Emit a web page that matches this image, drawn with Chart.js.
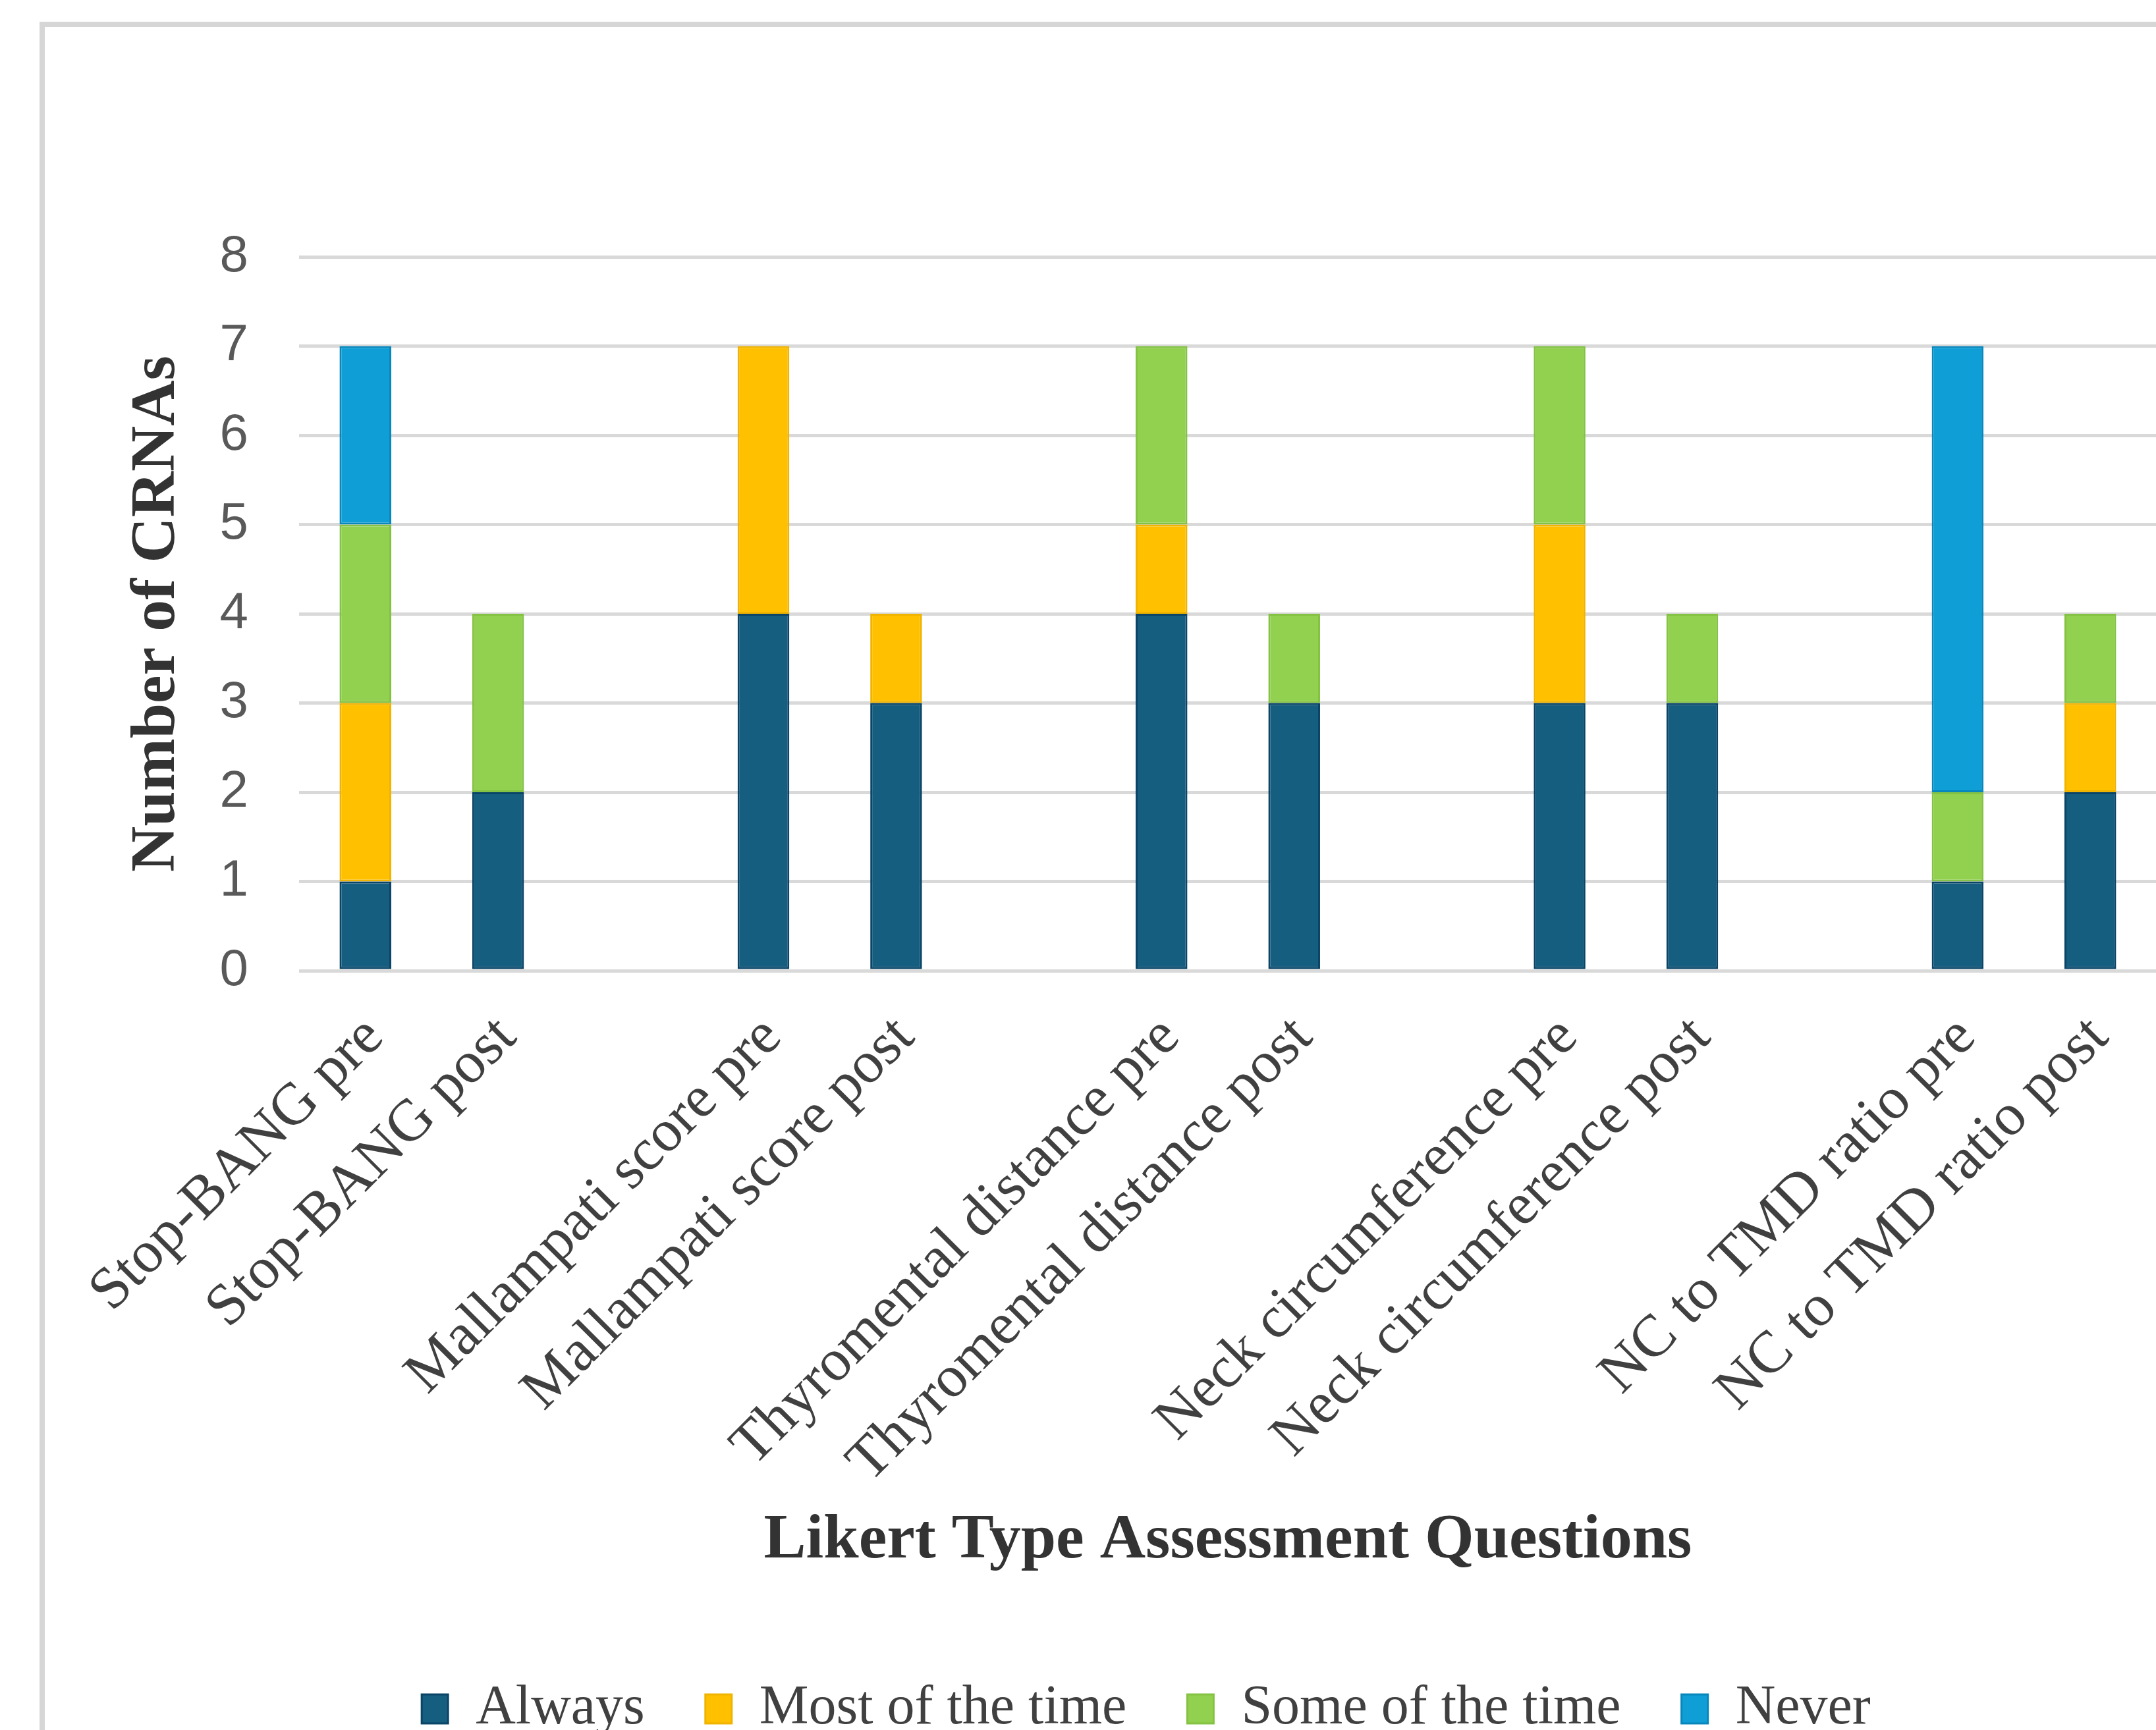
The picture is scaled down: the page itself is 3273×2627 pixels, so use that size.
<!DOCTYPE html>
<html>
<head>
<meta charset="utf-8">
<script src="https://cdn.jsdelivr.net/npm/chart.js@4.4.1/dist/chart.umd.min.js"></script>
<style>
  html, body { margin: 0; padding: 0; background: #fff; overflow: hidden; }
  body { width: 3273px; height: 2627px; position: relative; }
  #frame {
    position: absolute; left: 60px; top: 33px; width: 3420px; height: 2700px;
    border: 8px solid #d6d6d6; box-sizing: border-box;
  }
  #wrap { position: absolute; left: 0; top: 0; width: 3440px; height: 2700px; }
</style>
</head>
<body>
<div id="frame"></div>
<div id="wrap"><canvas id="barchart1" width="3440" height="2700"></canvas></div>
<script>
// Categories (blank entries are the spacer columns between question pairs)
const questions = [
    'Stop-BANG pre', 'Stop-BANG post', '',
    'Mallampati score pre', 'Mallampati score post', '',
    'Thyromental distance pre', 'Thyromental distance post', '',
    'Neck circumference pre', 'Neck circumference post', '',
    'NC to TMD ratio pre', 'NC to TMD ratio post'
];

// Number of CRNAs per answer
const always      = [1, 2, null, 4, 3, null, 4, 3, null, 3, 3, null, 1, 2];
const mostOfTime  = [2, 0, null, 3, 1, null, 1, 0, null, 2, 0, null, 0, 1];
const someOfTime  = [2, 2, null, 0, 0, null, 2, 1, null, 2, 1, null, 1, 1];
const never       = [2, 0, null, 0, 0, null, 0, 0, null, 0, 0, null, 5, 0];

const yTicks = [0, 1, 2, 3, 4, 5, 6, 7, 8];

const serif = "'Liberation Serif', 'Times New Roman', serif";
const sans = "'Liberation Sans', Arial, sans-serif";

function series(label, data, fill, edge) {
    return {
        label: label,
        data: data,
        backgroundColor: fill,
        borderColor: edge,
        borderWidth: 3,
        borderSkipped: false,
        barPercentage: 0.39,
        categoryPercentage: 1
    };
}

const ctx = document.getElementById('barchart1').getContext('2d');
const chart = new Chart(ctx, {
    type: 'bar',
    data: {
        labels: questions,
        datasets: [
            series('Always', always, '#165e80', '#0a4466'),
            series('Most of the time', mostOfTime, '#ffc000', '#f0b400'),
            series('Some of the time', someOfTime, '#92d050', '#84c243'),
            series('Never', never, '#0f9ed5', '#0887bd')
        ]
    },
    options: {
        responsive: false,
        animation: false,
        layout: {
            padding: { left: 70, top: 390, right: 30, bottom: 53 }
        },
        plugins: {
            tooltip: { enabled: false },
            legend: {
                position: 'bottom',
                labels: {
                    boxWidth: 40,
                    boxHeight: 44,
                    padding: 92,
                    color: '#404040',
                    font: { family: serif, size: 84 }
                }
            }
        },
        scales: {
            x: {
                stacked: true,
                grid: { display: false },
                border: { display: false },
                ticks: {
                    autoSkip: false,
                    minRotation: 45,
                    maxRotation: 45,
                    padding: 41,
                    labelOffset: 14,
                    color: '#404040',
                    font: { family: serif, size: 90 }
                },
                title: {
                    display: true,
                    text: 'Likert Type Assessment Questions',
                    color: '#333333',
                    padding: { top: 0, bottom: 63 },
                    font: { family: serif, size: 96, weight: 'bold' }
                },
                afterFit: function (scale) { scale.height = 987; }
            },
            y: {
                stacked: true,
                min: yTicks[0],
                max: yTicks[yTicks.length - 1],
                grid: { color: '#d9d9d9', lineWidth: 5, drawTicks: false },
                border: { display: false },
                afterBuildTicks: function (scale) {
                    scale.ticks = yTicks.map(v => ({ value: v }));
                },
                ticks: {
                    padding: 77,
                    color: '#595959',
                    font: { family: sans, size: 78 }
                },
                title: {
                    display: true,
                    text: 'Number of CRNAs',
                    color: '#333333',
                    padding: { top: 112, bottom: 0 },
                    font: { family: serif, size: 96, weight: 'bold' }
                },
                afterFit: function (scale) { scale.width = 384; }
            },
            // empty right-hand axis: keeps the plot narrower than the frame
            yRight: {
                position: 'right',
                grid: { display: false },
                border: { display: false },
                ticks: { display: false },
                afterFit: function (scale) { scale.width = 136; }
            }
        }
    }
});
</script>
</body>
</html>
